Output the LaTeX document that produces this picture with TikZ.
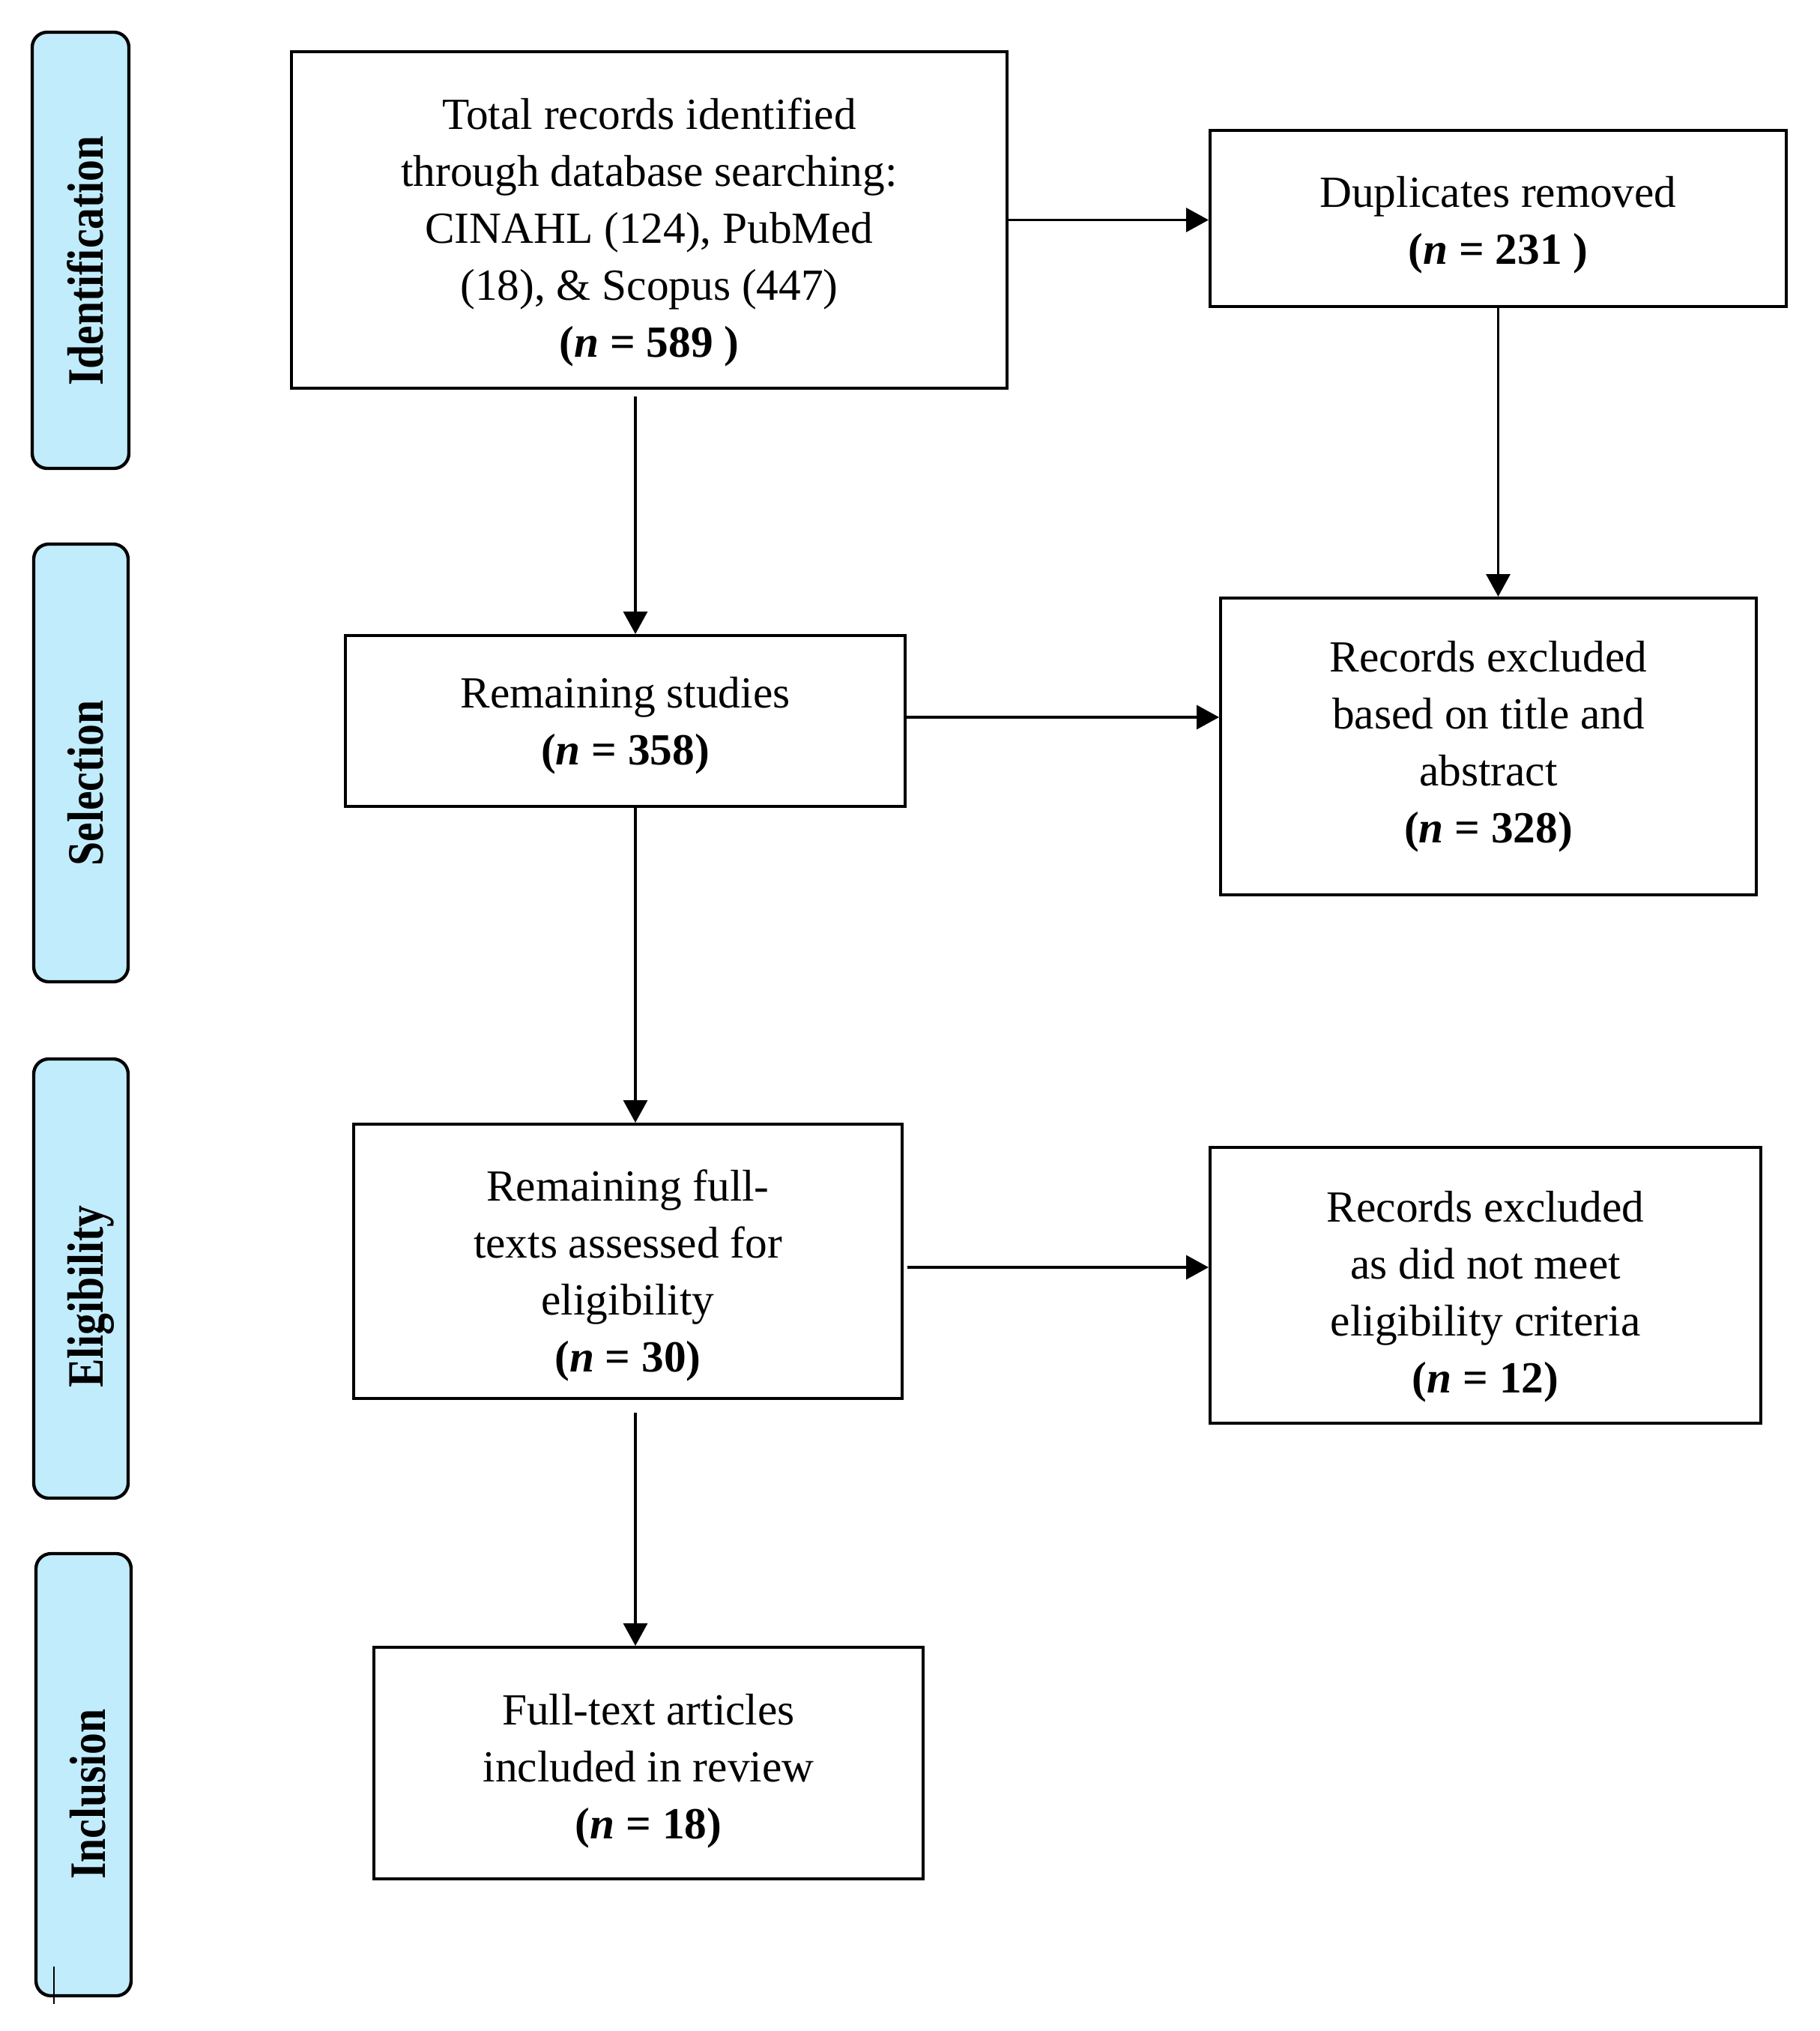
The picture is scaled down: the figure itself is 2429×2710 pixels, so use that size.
\documentclass[tikz,border=0pt]{standalone}
\usepackage{fontspec}
\setmainfont{Liberation Serif}
\usetikzlibrary{arrows.meta}
\definecolor{phase}{RGB}{193,236,252}
\tikzset{
  box/.style={draw=black, line width=1.2pt, fill=white, inner sep=0pt},
  boxtext/.style={inner sep=0pt, align=center,
    font=\fontsize{17.8pt}{22.8pt}\selectfont},
  phasebox/.style={draw=black, line width=1.3pt, fill=phase, rounded corners=6pt, inner sep=0pt},
  phasetext/.style={rotate=90, anchor=base, inner sep=0pt,
    font=\fontsize{17.3pt}{20pt}\selectfont\bfseries},
  arr/.style={draw=black, line width=1pt, -{Triangle[length=9pt,width=9.6pt]}},
  plain/.style={draw=black, line width=0.8pt}
}
\newcommand{\nn}[1]{\textbf{(\textit{n} = #1)}}
\newcommand{\ph}[1]{\scalebox{1}[1.18]{#1}}
\begin{document}
\begin{tikzpicture}[x=0.3pt,y=-0.3pt]
\useasboundingbox (0,0) rectangle (2429,2710);
% phase boxes
\node[phasebox, minimum width=38.7pt, minimum height=174.6pt] (pid) at (107.5,334) {};
\node[phasebox, minimum width=37.8pt, minimum height=175.2pt] (psel) at (108,1018) {};
\node[phasebox, minimum width=37.8pt, minimum height=175.8pt] (pel) at (108,1706) {};
\node[phasebox, minimum width=38.1pt, minimum height=177pt] (pin) at (111.5,2368) {};
\node[phasetext] (tid) at (137,348) {\ph{Identification}};
\node[phasetext] (tsel) at (137,1045) {\ph{Selection}};
\node[phasetext] (tel) at (137,1730) {\ph{Eligibility}};
\node[phasetext] (tin) at (140,2394) {\ph{Inclusion}};
% stray mark
\coordinate (m1) at (72,2624);
\coordinate (m2) at (72,2674);
\draw[plain] (m1) -- (m2);
% main boxes
\node[box, minimum width=286.5pt, minimum height=134.7pt] (total) at (866.5,293.5) {};
\node[box, minimum width=230.7pt, minimum height=70.5pt] (dup) at (1999.5,291.5) {};
\node[box, minimum width=224.1pt, minimum height=68.4pt] (rems) at (834.5,962) {};
\node[box, minimum width=214.5pt, minimum height=118.8pt] (exclt) at (1986.5,996) {};
\node[box, minimum width=219.6pt, minimum height=109.8pt] (remf) at (838,1683) {};
\node[box, minimum width=220.5pt, minimum height=110.4pt] (excle) at (1982.5,1715) {};
\node[box, minimum width=219.9pt, minimum height=92.7pt] (ft) at (865.5,2352.5) {};
% box texts
\node[boxtext] (totalT) at ([yshift=-4.8pt]total.center)
  {Total records identified\\through database searching:\\CINAHL (124), PubMed\\(18), \& Scopus (447)\\\textbf{(\textit{n} = 589 )}};
\node[boxtext] (dupT) at ([yshift=-2.6pt]dup.center)
  {Duplicates removed\\\textbf{(\textit{n} = 231 )}};
\node[boxtext] (remsT) at ([yshift=-2pt]rems.center)
  {Remaining studies\\\nn{358}};
\node[boxtext] (excltT) at (exclt.center)
  {Records excluded\\based on title and\\abstract\\\nn{328}};
\node[boxtext] (remfT) at ([yshift=-5.7pt]remf.center)
  {Remaining full-\\texts assessed for\\eligibility\\\nn{30}};
\node[boxtext] (excleT) at ([yshift=-4.6pt]excle.center)
  {Records excluded\\as did not meet\\eligibility criteria\\\nn{12}};
\node[boxtext] (ftT) at ([yshift=-3.3pt]ft.center)
  {Full-text articles\\included in review\\\nn{18}};
% connectors
\coordinate (colx) at (848,0);
\draw[arr] ([yshift=-2.7pt]total.south -| colx) -- (rems.north -| colx);
\draw[arr] (rems.south -| colx) -- (remf.north -| colx);
\draw[arr] ([yshift=-5pt]remf.south -| colx) -- (ft.north -| colx);
\draw[arr] (total.east) -- (total.east -| dup.west);
\draw[arr] (dup.south) -- (dup.south |- exclt.north);
\draw[arr] ([yshift=1.5pt]rems.east) coordinate (a2) -- (a2 -| exclt.west);
\draw[arr] ([xshift=1.5pt,yshift=-2.4pt]remf.east) coordinate (a3) -- (a3 -| excle.west);
\end{tikzpicture}
\end{document}
